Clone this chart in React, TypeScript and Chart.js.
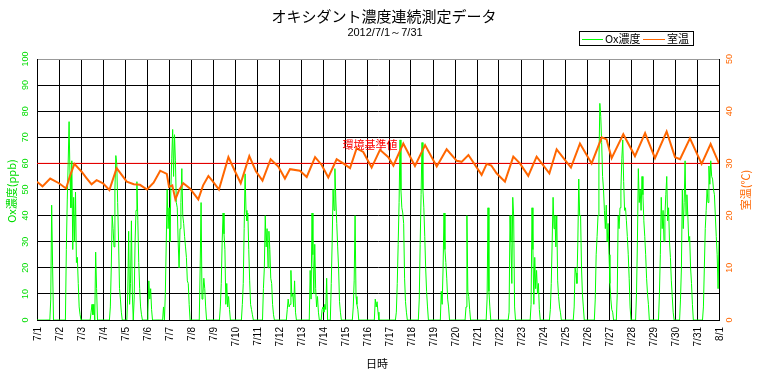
import React, { useEffect, useRef } from 'react';
import { Chart, registerables } from 'chart.js';

Chart.register(...registerables);

const titleText = 'オキシダント濃度連続測定データ';
const subtitleText = '2012/7/1～7/31';
const legendLabels = ['Ox濃度', '室温'];
const leftAxisTitle = 'Ox濃度(ppb)';
const rightAxisTitle = '室温(℃)';
const xAxisTitle = '日時';
const standardLabel = '環境基準値';
const standardValue = 60;

const xTickLabels = [
  '7/1', '7/2', '7/3', '7/4', '7/5', '7/6', '7/7', '7/8', '7/9', '7/10',
  '7/11', '7/12', '7/13', '7/14', '7/15', '7/16', '7/17', '7/18', '7/19', '7/20',
  '7/21', '7/22', '7/23', '7/24', '7/25', '7/26', '7/27', '7/28', '7/29', '7/30',
  '7/31', '8/1',
];
const leftTicks = [0, 10, 20, 30, 40, 50, 60, 70, 80, 90, 100];
const rightTicks = [0, 10, 20, 30, 40, 50];

// room temperature readings: time (days since 7/1 0:00) and value (°C)
const tempDays = [
  0, 0.25, 0.6, 1.0, 1.32, 1.5, 1.7, 2.03, 2.25, 2.48, 2.71, 3.0, 3.29, 3.62, 3.85,
  4.08, 4.4, 4.68, 5.0, 5.3, 5.6, 5.9, 6.0, 6.15, 6.29, 6.45, 6.65, 6.95, 7.33, 7.55,
  7.79, 8.0, 8.27, 8.7, 9.0, 9.26, 9.65, 9.95, 10.25, 10.62, 10.97, 11.27, 11.5, 11.95,
  12.26, 12.64, 12.94, 13.24, 13.62, 13.92, 14.23, 14.53, 14.83, 15.21, 15.59, 15.97,
  16.2, 16.65, 17.18, 17.64, 18.17, 18.62, 19.08, 19.3, 19.61, 20.21, 20.44, 20.65,
  20.89, 21.27, 21.65, 21.95, 22.33, 22.71, 23.29, 23.62, 24.27, 24.68, 25.21, 25.67,
  25.89, 26.12, 26.65, 27.18, 27.64, 28.09, 28.62, 29.0, 29.23, 29.68, 30.21, 30.62, 31.0,
];
const tempValues = [
  26.5, 25.6, 27.1, 26.2, 25.2, 27.6, 29.9, 28.4, 27.2, 26.0, 26.8, 26.2, 24.9, 29.1, 27.8,
  26.5, 26.0, 25.9, 25.0, 26.3, 28.6, 28.0, 25.5, 25.8, 23.1, 24.8, 26.2, 25.2, 23.1, 25.8,
  27.6, 26.5, 25.0, 31.2, 28.5, 26.2, 31.4, 28.5, 26.7, 30.8, 29.4, 27.1, 28.9, 28.6,
  27.4, 31.2, 29.7, 27.3, 30.8, 30.0, 29.1, 32.9, 32.2, 29.2, 32.6, 31.2,
  29.6, 33.8, 29.5, 33.5, 29.4, 32.7, 30.5, 30.3, 31.6, 27.8, 29.9, 29.6,
  28.1, 26.5, 31.3, 30.0, 27.6, 31.3, 28.1, 32.7, 29.2, 33.8, 30.0, 35.0,
  34.6, 31.0, 35.6, 31.4, 35.8, 31.0, 36.1, 31.2, 30.8, 34.8, 29.9, 33.7, 30.0,
];

// hourly oxidant concentration (ppb), 24 values per day from 7/1 0:00, last value 8/1 0:00
const oxHourly = [
  /* 7/1 */ 0, 0, 0, 0, 0, 0, 0, 0, 0, 0, 0, 0, 0, 0, 0, 8, 44, 21, 0, 0, 0, 0, 0, 0,
  /* 7/2 */ 0, 0, 0, 0, 0, 0, 0, 0, 27, 46, 60, 76, 55, 43, 61, 27, 47, 30, 49, 22, 24, 14, 5, 2,
  /* 7/3 */ 0, 0, 0, 0, 0, 0, 0, 0, 0, 0, 0, 3, 6, 2, 6, 0, 26, 12, 0, 0, 0, 0, 0, 0,
  /* 7/4 */ 0, 0, 0, 0, 0, 0, 0, 0, 5, 20, 40, 35, 28, 50, 63, 60, 45, 30, 12, 8, 3, 0, 0, 0,
  /* 7/5 */ 0, 0, 0, 10, 34, 6, 14, 38, 10, 0, 8, 30, 42, 53, 38, 22, 12, 5, 2, 0, 0, 0, 0, 0,
  /* 7/6 */ 0, 3, 15, 8, 12, 4, 0, 0, 0, 0, 0, 0, 0, 0, 0, 0, 0, 0, 5, 0, 10, 30, 50, 35,
  /* 7/7 */ 43, 30, 50, 62, 73, 55, 71, 61, 45, 43, 30, 20, 35, 45, 58, 40, 37, 32, 28, 24, 15, 14, 6, 0,
  /* 7/8 */ 0, 0, 0, 0, 0, 0, 0, 0, 0, 0, 20, 45, 8, 10, 16, 12, 5, 0, 0, 0, 0, 0, 0, 0,
  /* 7/9 */ 0, 0, 0, 0, 0, 0, 0, 0, 5, 14, 30, 41, 33, 27, 6, 14, 5, 9, 4, 0, 0, 0, 0, 0,
  /* 7/10 */ 0, 0, 0, 0, 0, 0, 0, 0, 6, 14, 35, 56, 42, 38, 41, 27, 15, 6, 4, 2, 0, 0, 0, 0,
  /* 7/11 */ 0, 0, 0, 0, 0, 0, 0, 12, 20, 40, 28, 35, 20, 34, 27, 16, 14, 6, 2, 0, 0, 0, 0, 0,
  /* 7/12 */ 0, 0, 0, 0, 0, 0, 0, 0, 0, 4, 8, 5, 6, 19, 9, 10, 5, 15, 3, 0, 0, 0, 0, 0,
  /* 7/13 */ 0, 0, 0, 0, 0, 0, 0, 0, 0, 0, 19, 8, 41, 25, 10, 29, 12, 5, 9, 3, 0, 0, 0, 4,
  /* 7/14 */ 5, 3, 6, 4, 16, 0, 0, 0, 0, 14, 30, 50, 42, 58, 46, 37, 28, 20, 7, 3, 0, 0, 0, 0,
  /* 7/15 */ 0, 0, 0, 0, 0, 0, 0, 0, 0, 5, 15, 40, 9, 6, 4, 0, 0, 0, 0, 0, 0, 0, 0, 0,
  /* 7/16 */ 0, 0, 0, 0, 0, 0, 0, 0, 0, 8, 5, 7, 3, 0, 0, 0, 0, 0, 0, 0, 0, 0, 0, 0,
  /* 7/17 */ 0, 0, 0, 0, 0, 0, 0, 0, 3, 14, 29, 45, 69, 50, 43, 41, 37, 16, 7, 3, 0, 0, 0, 0,
  /* 7/18 */ 0, 0, 0, 0, 0, 0, 0, 0, 0, 8, 29, 48, 68, 50, 43, 32, 20, 11, 5, 0, 0, 0, 0, 0,
  /* 7/19 */ 0, 0, 0, 0, 0, 0, 0, 0, 0, 11, 6, 20, 41, 27, 22, 16, 8, 5, 0, 0, 0, 0, 0, 0,
  /* 7/20 */ 0, 0, 0, 0, 0, 0, 0, 0, 0, 0, 0, 0, 5, 40, 11, 9, 4, 0, 0, 0, 0, 0, 0, 0,
  /* 7/21 */ 0, 0, 0, 0, 0, 0, 0, 0, 0, 0, 0, 8, 43, 11, 5, 0, 0, 0, 0, 0, 0, 0, 0, 0,
  /* 7/22 */ 0, 0, 0, 0, 0, 0, 0, 0, 0, 0, 0, 3, 40, 30, 14, 47, 40, 5, 0, 0, 0, 0, 0, 0,
  /* 7/23 */ 0, 0, 0, 0, 0, 0, 0, 0, 0, 0, 0, 6, 43, 27, 6, 24, 12, 19, 10, 14, 4, 0, 0, 0,
  /* 7/24 */ 0, 0, 0, 0, 0, 0, 0, 0, 4, 14, 30, 47, 35, 40, 28, 40, 15, 9, 5, 3, 0, 0, 0, 0,
  /* 7/25 */ 0, 0, 0, 0, 0, 0, 0, 0, 0, 0, 5, 20, 18, 14, 30, 54, 40, 40, 20, 10, 5, 0, 0, 0,
  /* 7/26 */ 0, 0, 0, 0, 0, 0, 0, 0, 0, 8, 25, 32, 40, 60, 83, 78, 68, 55, 50, 42, 35, 44, 30, 37,
  /* 7/27 */ 25, 14, 8, 4, 3, 0, 0, 0, 0, 10, 40, 35, 43, 50, 62, 69, 53, 42, 43, 38, 32, 25, 16, 5,
  /* 7/28 */ 0, 0, 0, 0, 0, 0, 10, 30, 58, 45, 50, 42, 55, 48, 38, 32, 25, 16, 10, 6, 0, 0, 0, 0,
  /* 7/29 */ 0, 0, 0, 0, 0, 0, 0, 10, 25, 47, 35, 42, 30, 40, 48, 55, 38, 43, 30, 24, 15, 9, 3, 0,
  /* 7/30 */ 0, 0, 0, 0, 0, 0, 8, 20, 50, 35, 45, 61, 40, 48, 40, 30, 32, 20, 14, 6, 0, 0, 0, 0,
  /* 7/31 */ 0, 0, 0, 0, 0, 0, 0, 5, 20, 35, 42, 50, 45, 59, 52, 61, 55, 54, 50, 48, 40, 32, 25, 12,
  /* 8/1 */ 30,
];

const GREEN = '#00ff00';
const GREEN_TEXT = '#00dd00';
const ORANGE = '#ff6600';
const RED = '#ff0000';
const FONT = '"Noto Sans CJK JP", "DejaVu Sans", sans-serif';
const NUM_FONT = '"Liberation Sans", "DejaVu Sans", sans-serif';

const overlayPlugin = {
  id: 'overlay',
  afterDraw(chart: any) {
    const ctx = chart.ctx as CanvasRenderingContext2D;
    const xs = chart.scales.x;
    const ys = chart.scales.y;
    const ys1 = chart.scales.y1;
    ctx.save();

    // title
    ctx.fillStyle = '#000';
    ctx.textAlign = 'center';
    ctx.textBaseline = 'middle';
    ctx.font = `15px ${FONT}`;
    ctx.fillText(titleText, 384, 16);
    ctx.font = `11px ${NUM_FONT}`;
    ctx.fillText(subtitleText, 385, 33);

    // legend
    ctx.strokeStyle = '#000';
    ctx.lineWidth = 1;
    ctx.strokeRect(579.5, 31.5, 114, 14);
    ctx.strokeStyle = GREEN;
    ctx.beginPath();
    ctx.moveTo(582, 39.5);
    ctx.lineTo(603, 39.5);
    ctx.stroke();
    ctx.strokeStyle = ORANGE;
    ctx.beginPath();
    ctx.moveTo(643, 39.5);
    ctx.lineTo(665, 39.5);
    ctx.stroke();
    ctx.fillStyle = '#000';
    ctx.textAlign = 'left';
    ctx.font = `11px ${FONT}`;
    ctx.fillText(legendLabels[0], 605, 39);
    ctx.fillText(legendLabels[1], 667, 39);

    // standard value label
    ctx.fillStyle = RED;
    ctx.textAlign = 'center';
    ctx.font = `11px ${FONT}`;
    ctx.fillText(standardLabel, 370, ys.getPixelForValue(standardValue) - 19);

    const rotated = (text: string, x: number, y: number, align: CanvasTextAlign) => {
      ctx.save();
      ctx.translate(x, y);
      ctx.rotate(-Math.PI / 2);
      ctx.textAlign = align;
      ctx.textBaseline = 'middle';
      ctx.fillText(text, 0, 0);
      ctx.restore();
    };

    // left ticks
    ctx.fillStyle = GREEN_TEXT;
    ctx.font = `9px ${NUM_FONT}`;
    leftTicks.forEach((v) => rotated(String(v), 26, ys.getPixelForValue(v), 'center'));
    // right ticks
    ctx.fillStyle = ORANGE;
    rightTicks.forEach((v) => rotated(String(v), 730, ys1.getPixelForValue(v), 'center'));
    // x ticks
    ctx.fillStyle = '#000';
    ctx.font = `10px ${NUM_FONT}`;
    xTickLabels.forEach((lab, i) => rotated(lab, xs.getPixelForValue(i) + 1, 327, 'right'));

    // axis titles
    ctx.font = `11px ${FONT}`;
    ctx.fillStyle = GREEN_TEXT;
    rotated(leftAxisTitle, 12, 191, 'center');
    ctx.fillStyle = ORANGE;
    rotated(rightAxisTitle, 746, 190, 'center');
    ctx.fillStyle = '#000';
    ctx.textAlign = 'center';
    ctx.textBaseline = 'middle';
    ctx.fillText(xAxisTitle, 377, 364);

    ctx.restore();
  },
};

export default function App() {
  const canvasRef = useRef<HTMLCanvasElement | null>(null);

  useEffect(() => {
    if (!canvasRef.current) return;
    const oxData = oxHourly.map((v, i) => ({ x: i / 24, y: v }));
    const tempData = tempValues.map((v, i) => ({ x: tempDays[i], y: v }));
    const stdData = [
      { x: 0, y: standardValue },
      { x: xTickLabels.length - 1, y: standardValue },
    ];

    const chart = new Chart(canvasRef.current, {
      type: 'line',
      data: {
        datasets: [
          {
            label: legendLabels[1],
            data: tempData,
            yAxisID: 'y1',
            borderColor: ORANGE,
            borderWidth: 2,
            pointRadius: 0,
            tension: 0,
            order: 0,
          },
          {
            label: legendLabels[0],
            data: oxData,
            yAxisID: 'y',
            borderColor: GREEN,
            borderWidth: 1,
            pointRadius: 0,
            tension: 0,
            order: 1,
          },
          {
            label: standardLabel,
            data: stdData,
            yAxisID: 'y',
            borderColor: RED,
            borderWidth: 1,
            pointRadius: 0,
            order: 2,
          },
        ],
      },
      options: {
        animation: false,
        responsive: false,
        maintainAspectRatio: false,
        layout: { padding: { left: 37, right: 40, top: 59, bottom: 50 } },
        plugins: { legend: { display: false }, tooltip: { enabled: false }, title: { display: false } },
        scales: {
          x: {
            type: 'linear',
            min: 0,
            max: xTickLabels.length - 1,
            ticks: { display: false, stepSize: 1 },
            grid: { color: '#000', lineWidth: 1, drawTicks: false },
            border: { color: '#000', width: 1 },
          },
          y: {
            type: 'linear',
            position: 'left',
            min: 0,
            max: 100,
            ticks: { display: false, stepSize: 10 },
            grid: {
              color: (c: any) => (c.tick && c.tick.value === 100 ? '#999999' : '#000000'),
              lineWidth: 1,
              drawTicks: false,
            },
            border: { color: '#000', width: 1 },
          },
          y1: {
            type: 'linear',
            position: 'right',
            min: 0,
            max: 50,
            ticks: { display: false, stepSize: 10 },
            grid: { display: false, drawTicks: false },
            border: { color: '#000', width: 1 },
          },
        },
      },
      plugins: [overlayPlugin],
    });
    return () => chart.destroy();
  }, []);

  return (
    <div style={{ position: 'absolute', left: 0, top: 0, width: 759, height: 370, background: '#fff' }}>
      <canvas ref={canvasRef} width={759} height={370} />
    </div>
  );
}
